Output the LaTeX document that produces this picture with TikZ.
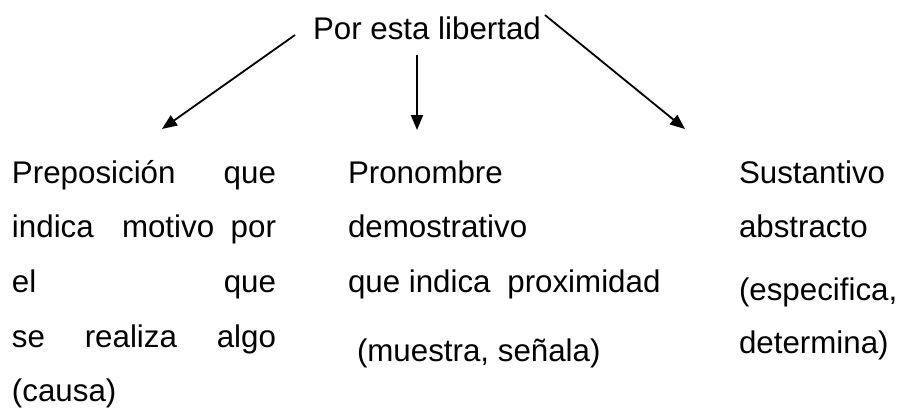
\documentclass[tikz,border=0pt]{standalone}
\usepackage{fontspec}
\setmainfont{Liberation Sans}
\usetikzlibrary{arrows.meta}
\tikzset{
  txt/.style={anchor=base west, inner sep=0pt, outer sep=0pt, font=\fontsize{31.3}{37}\selectfont},
  arr/.style={line width=1.8pt, -{Triangle[length=15pt,width=12pt]}},
}
\begin{document}
\begin{tikzpicture}[x=1pt,y=-1pt]
\useasboundingbox (0,0) rectangle (903,408);
% title
\node[txt] (title) at (313,39) {Por esta libertad};
% left column (justified)
\node[txt] (l1) at (12,183) {\hbox to 264pt{Preposición\hfill que}};
\node[txt] (l2) at (12,237) {\hbox to 264pt{indica\hspace{0pt plus 2.5fil} motivo\hspace{0pt plus 1fil} por}};
\node[txt] (l3) at (12,292) {\hbox to 264pt{el\hfill que}};
\node[txt] (l4) at (12,347) {\hbox to 264pt{se\hfill realiza\hfill algo}};
\node[txt] (l5) at (12,401) {(causa)};
% middle column
\node[txt] (m1) at (348,183) {Pronombre};
\node[txt] (m2) at (348,237) {demostrativo};
\node[txt] (m3) at (348,292) {que indica\hspace{8pt} proximidad};
\node[txt] (m4) at (357,361) {(muestra, señala)};
% right column
\node[txt] (r1) at (739,183) {Sustantivo};
\node[txt] (r2) at (739,237) {abstracto};
\node[txt] (r3) at (739,300) {(especifica,};
\node[txt] (r4) at (739,353) {determina)};
% connectors
\coordinate (sL) at ([xshift=-18pt,yshift=4pt]title.base west);
\coordinate (sM) at (417,55);
\coordinate (sR) at ([xshift=4pt,yshift=24pt]title.base east);
\coordinate (tL) at (162,129);
\coordinate (tM) at (417,130);
\coordinate (tR) at (685,129);
\draw[arr] (sL) -- (tL);
\draw[arr] (sM) -- (tM);
\draw[arr] (sR) -- (tR);
\end{tikzpicture}
\end{document}
